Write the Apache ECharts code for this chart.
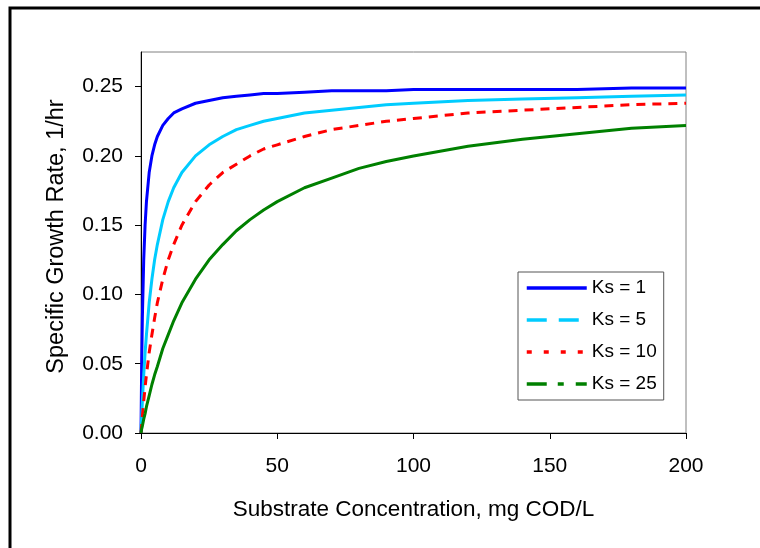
<!DOCTYPE html>
<html>
<head>
<meta charset="utf-8">
<script src="https://cdn.jsdelivr.net/npm/echarts@6/dist/echarts.min.js"></script>
<style>
html,body{margin:0;padding:0;background:#fff;}
#chart{width:760px;height:548px;}
</style>
</head>
<body>
<div id="chart"></div>
<script>
// Substrate concentration (mg COD/L) sample points
var substrate = [0, 0.25, 0.5, 1, 1.5, 2, 3, 4, 5, 6, 8, 10, 12, 15, 20, 25, 30, 35, 40, 45, 50, 60, 70, 80, 90, 100, 120, 140, 160, 180, 200];
// Specific growth rate (1/hr)
var ks1  = [0, 0.050, 0.083, 0.125, 0.150, 0.167, 0.188, 0.200, 0.208, 0.214, 0.222, 0.227, 0.231, 0.234, 0.238, 0.240, 0.242, 0.243, 0.244, 0.245, 0.245, 0.246, 0.247, 0.247, 0.247, 0.248, 0.248, 0.248, 0.248, 0.249, 0.249];
var ks5  = [0, 0.012, 0.023, 0.042, 0.058, 0.071, 0.094, 0.111, 0.125, 0.136, 0.154, 0.167, 0.177, 0.188, 0.200, 0.208, 0.214, 0.219, 0.222, 0.225, 0.227, 0.231, 0.233, 0.235, 0.237, 0.238, 0.240, 0.241, 0.242, 0.243, 0.244];
var ks10 = [0, 0.006, 0.012, 0.023, 0.033, 0.042, 0.058, 0.071, 0.083, 0.094, 0.111, 0.125, 0.136, 0.150, 0.167, 0.179, 0.188, 0.194, 0.200, 0.205, 0.208, 0.214, 0.219, 0.222, 0.225, 0.227, 0.231, 0.233, 0.235, 0.237, 0.238];
var ks25 = [0, 0.003, 0.005, 0.010, 0.014, 0.019, 0.027, 0.035, 0.042, 0.048, 0.061, 0.071, 0.081, 0.094, 0.111, 0.125, 0.136, 0.146, 0.154, 0.161, 0.167, 0.177, 0.184, 0.191, 0.196, 0.200, 0.207, 0.212, 0.216, 0.220, 0.222];
var seriesNames = ['Ks = 1', 'Ks = 5', 'Ks = 10', 'Ks = 25'];
var xTicks = [0, 50, 100, 150, 200];
var yTicks = [0, 0.05, 0.10, 0.15, 0.20, 0.25];
var yTop = 0.275; // plot area extends above last tick

function pairs(ys){ return substrate.map(function(s,i){ return [s, ys[i]]; }); }

var colors = ['#0000FF', '#00CCFF', '#FF0000', '#008000'];
var plotDash = ['solid', 'solid', [9, 7], 'solid'];
var legendDash = ['solid', [20, 12], [5, 12], [20, 11, 6, 12]];
var allData = [ks1, ks5, ks10, ks25];

var chart = echarts.init(document.getElementById('chart'), null, {renderer:'canvas'});
var font = 'Liberation Sans, Arial, sans-serif';

var option = {
  animation: false,
  backgroundColor: '#fff',
  grid: { left: 141, right: 74, top: 52, bottom: 115, containLabel: false, show: true, borderColor: '#808080', borderWidth: 1, backgroundColor: 'transparent' },
  xAxis: {
    type: 'value', min: xTicks[0], max: xTicks[xTicks.length-1], interval: 50,
    name: 'Substrate Concentration, mg COD/L', nameLocation: 'middle', nameGap: 65,
    nameTextStyle: { fontFamily: font, fontSize: 22.5, color: '#000' },
    axisLine: { show: true, onZero: false, lineStyle: { color: '#000', width: 1 } },
    axisTick: { show: true, inside: false, length: 6, lineStyle: { color: '#000' } },
    axisLabel: { fontFamily: font, fontSize: 21, color: '#000', margin: 23 },
    splitLine: { show: false }
  },
  yAxis: {
    type: 'value', min: yTicks[0], max: yTop,
    name: 'Specific Growth Rate, 1/hr', nameLocation: 'middle', nameGap: 72,
    nameTextStyle: { fontFamily: font, fontSize: 23.5, color: '#000', padding: [0, 0, 0, 12] },
    axisLine: { show: true, onZero: false, lineStyle: { color: '#000', width: 1 } },
    axisTick: { show: true, inside: false, length: 6, lineStyle: { color: '#000' }, customValues: yTicks },
    axisLabel: { fontFamily: font, fontSize: 21, color: '#000', margin: 18, customValues: yTicks,
      formatter: function(v){ return v.toFixed(2); } },
    splitLine: { show: false }
  },
  legend: {
    orient: 'vertical', left: 518, top: 272,
    itemWidth: 60, itemHeight: 12, itemGap: 12,
    padding: [6, 7, 6, 7],
    borderColor: '#555', borderWidth: 1, backgroundColor: '#fff',
    textStyle: { fontFamily: font, fontSize: 19, color: '#000', lineHeight: 20 },
    data: seriesNames.map(function(n, i){
      return { name: n,
        itemStyle: { color: 'rgba(0,0,0,0)', borderColor: 'rgba(0,0,0,0)', borderWidth: 0 },
        lineStyle: { color: colors[i], width: 3.5, type: legendDash[i] } };
    })
  },
  graphic: [
    { type: 'rect', shape: { x: 10, y: 8, width: 800, height: 600 }, style: { fill: 'none', stroke: '#000', lineWidth: 3 }, silent: true, z: -10 }
  ],
  series: seriesNames.map(function(n, i){
    return {
      name: n, type: 'line', data: pairs(allData[i]),
      symbol: 'none', showSymbol: false, smooth: false,
      lineStyle: { color: colors[i], width: 3, type: plotDash[i] },
      itemStyle: { color: colors[i] }
    };
  })
};
chart.setOption(option);
</script>
</body>
</html>
